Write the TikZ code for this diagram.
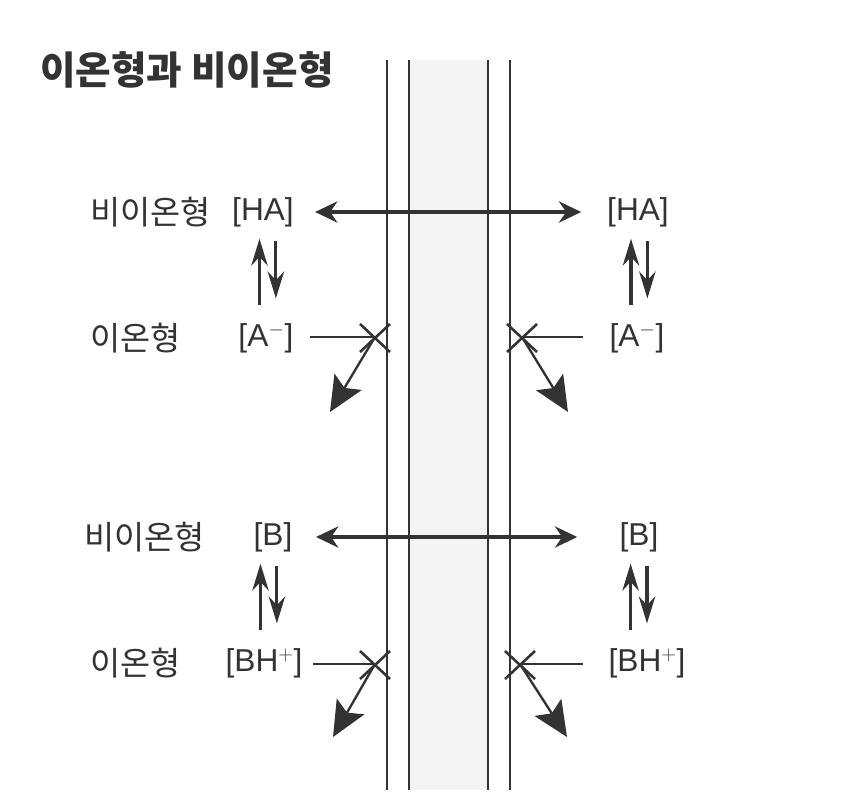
\documentclass[tikz,border=0pt]{standalone}
\usepackage{fontspec}
\setmainfont{Liberation Sans}
\newfontfamily\kr{Noto Sans CJK KR}
\usetikzlibrary{arrows.meta}
\definecolor{ink}{HTML}{333333}
\definecolor{memb}{HTML}{F4F4F4}

\begin{document}
\begin{tikzpicture}[x=0.03cm, y=-0.03cm,
    every node/.style={inner sep=0pt, text=ink},
    kor/.style={anchor=west, font=\fontsize{28}{32}\kr},
    chem/.style={font=\fontsize{27}{32}\selectfont},
    pass/.style={ink, line width=3pt, {Stealth[length=19pt,width=18pt]}-{Stealth[length=19pt,width=18pt]}},
    eq/.style={ink, line width=2.6pt, -{Stealth[length=23pt,width=14pt]}},
    block/.style={ink, line width=2.2pt},
    leak/.style={ink, line width=2pt, -{Stealth[length=30pt,width=27pt,inset=6pt]}}]
    \useasboundingbox[fill=white] (0,0) rectangle (843,804);

    % Membrana
    \fill[memb] (409,60) rectangle (488,790);
    \foreach \x in {387,409,488,510}
        \draw[ink, line width=1.9pt] (\x,60) -- (\x,790);

    % Nós
    \node[anchor=west, font=\fontsize{33}{38}\kr\bfseries] (title) at (40,70) {이온형과 비이온형};

    \node[kor] (t1) at (90,212) {비이온형};
    \node[chem] (HAl) at (263,212) {[HA]};
    \node[chem] (HAr) at (638,212) {[HA]};

    \node[kor] (t2) at (90,338) {이온형};
    \node[chem] (Al) at (266,338) {[A$^{-}$]};
    \node[chem] (Ar) at (637,338) {[A$^{-}$]};

    \node[kor] (t3) at (84,537) {비이온형};
    \node[chem] (Bl) at (273,537) {[B]};
    \node[chem] (Br) at (639,537) {[B]};

    \node[kor] (t4) at (90,663) {이온형};
    \node[chem] (BHl) at (264,663) {[BH$^{+}$]};
    \node[chem] (BHr) at (647,663) {[BH$^{+}$]};

    \coordinate (x1) at (375,337);
    \coordinate (x2) at (522,337);
    \coordinate (x3) at (375,664);
    \coordinate (x4) at (520,664);
    \coordinate (l1) at (330,412);
    \coordinate (l2) at (568,412);
    \coordinate (l3) at (333,737);
    \coordinate (l4) at (567,737);

    % Arestas
    \draw[pass, shorten <=18pt, shorten >=22pt] (HAl.east) -- (HAr.west);
    \draw[pass, shorten <=20pt, shorten >=36pt] (Bl.east) -- (Br.west);

    \draw[eq, shorten <=15pt, shorten >=10pt] ([xshift=-3pt]HAl.south |- Al.north) -- ([xshift=-3pt]HAl.south);
    \draw[eq, shorten <=12pt, shorten >=21pt] ([xshift=11pt]HAl.south) -- ([xshift=11pt]HAl.south |- Al.north);
    \draw[eq, shorten <=15pt, shorten >=10pt] ([xshift=-6pt]HAr.south |- Ar.north) -- ([xshift=-6pt]HAr.south);
    \draw[eq, shorten <=12pt, shorten >=21pt] ([xshift=8pt]HAr.south) -- ([xshift=8pt]HAr.south |- Ar.north);
    \draw[eq, shorten <=15pt, shorten >=10pt] ([xshift=-3pt]BHl.north) -- ([xshift=-3pt]BHl.north |- Bl.south);
    \draw[eq, shorten <=12pt, shorten >=21pt] ([xshift=11pt]BHl.north |- Bl.south) -- ([xshift=11pt]BHl.north);
    \draw[eq, shorten <=15pt, shorten >=10pt] ([xshift=-14pt]BHr.north) -- ([xshift=-14pt]BHr.north |- Br.south);
    \draw[eq, shorten <=12pt, shorten >=21pt] ([xshift=0pt]BHr.north |- Br.south) -- ([xshift=0pt]BHr.north);

    \draw[block, shorten <=14pt] (x1 -| Al.east) -- (x1);
    \draw[block, shorten <=22pt] (x2 -| Ar.west) -- (x2);
    \draw[block, shorten <=9pt] (x3 -| BHl.east) -- (x3);
    \draw[block, shorten <=22pt] (x4 -| BHr.west) -- (x4);
    \foreach \c in {x1,x2,x3,x4}
        \draw[block] (\c) +(-15,-13) -- +(15,15) (\c) +(15,-13) -- +(-15,15);

    \draw[leak] (x1) -- (l1);
    \draw[leak] (x2) -- (l2);
    \draw[leak] (x3) -- (l3);
    \draw[leak] (x4) -- (l4);
\end{tikzpicture}
\end{document}
